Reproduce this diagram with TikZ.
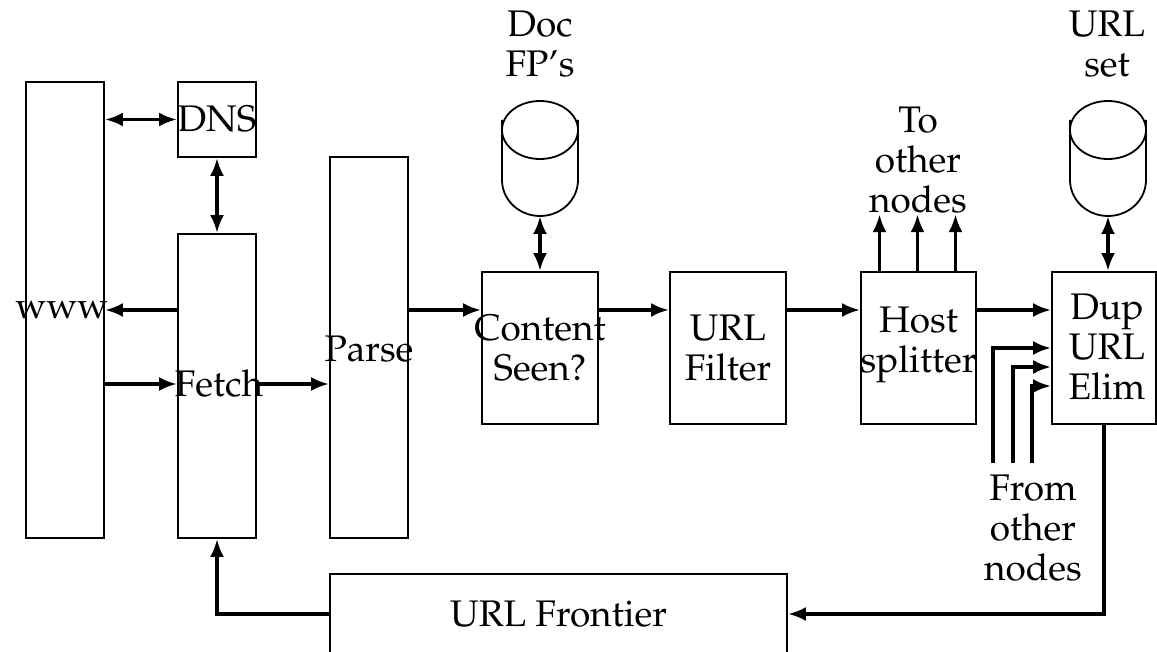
\documentclass[tikz,border=0pt]{standalone}
\usepackage[T1]{fontenc}
\usepackage{mathpazo}
\usetikzlibrary{arrows.meta}

\tikzset{
  box/.style={draw, line width=0.9pt, inner sep=0pt},
  lbl/.style={inner sep=0pt, align=center},
  arr/.style={line width=1.9pt, -{Latex[length=9pt,width=7pt]}},
  dbl/.style={line width=1.9pt, {Latex[length=9pt,width=7pt]}-{Latex[length=9pt,width=7pt]}},
  disk/.style={line width=0.9pt}
}

\begin{document}
\begin{tikzpicture}[x=0.5pt, y=-0.5pt, font=\fontsize{18.5}{20}\selectfont]
\useasboundingbox (0,0) rectangle (1157,652);

% processing boxes (outlines)
\node[box, minimum width=39pt, minimum height=228pt] (www) at (65,310) {};
\node[box, minimum width=39pt, minimum height=37.5pt] (dns) at (217,119.5) {};
\node[box, minimum width=39pt, minimum height=152pt] (fetch) at (217,386) {};
\node[box, minimum width=39pt, minimum height=190.5pt] (parse) at (369,347.5) {};
\node[box, minimum width=58pt, minimum height=76pt] (content) at (540,348) {};
\node[box, minimum width=58pt, minimum height=76pt] (filter) at (728,348) {};
\node[box, minimum width=57.5pt, minimum height=76pt] (host) at (918.5,348) {};
\node[box, minimum width=52pt, minimum height=76pt] (dup) at (1104,348) {};
\node[box, minimum width=228.5pt, minimum height=40pt] (frontier) at (558.5,614) {};

% box captions (allowed to run over the outlines)
\node[lbl] (wwwt) at (62,310) {www};
\node[lbl] (dnst) at (dns) {DNS};
\node[lbl] (fetcht) at (219,384) {Fetch};
\node[lbl] (parset) at (369,349) {Parse};
\node[lbl] (contentt) at (540,348) {Content\\Seen?};
\node[lbl] (filtert) at (728,348) {URL\\Filter};
\node[lbl] (hostt) at (918.5,345) {Host\\splitter};
\node[lbl] (dupt) at (1107,347) {Dup\\URL\\Elim};
\node[lbl] (frontiert) at (frontier) {URL Frontier};

% disk stores
\foreach \cx/\nm in {540/docfp, 1108/urlset}{
  \draw[disk] (\cx,130) ellipse [x radius=19pt, y radius=14.5pt];
  \draw[disk] (\cx-38,120) -- (\cx-38,180)
     arc[start angle=180, end angle=360, x radius=19pt, y radius=18pt]
     -- (\cx+38,120);
  \coordinate (\nm) at (\cx,216);
}
\node[lbl] (docl) at (540,44) {Doc\\FP's};
\node[lbl] (setl) at (1107,44) {URL\\set};
\node[lbl] (tol) at (918,160) {To\\other\\nodes};
\node[lbl] (froml) at (1033,528) {From\\other\\nodes};

% rows used by the main pipeline
\coordinate (r1) at (0,310);
\coordinate (r2) at (0,384);

% fetching stage
\draw[dbl] (www.east |- dns.west) -- (dns.west);
\draw[dbl] (dns.south) -- (fetch.north);
\draw[arr] (fetch.west |- r1) -- (www.east |- r1);
\draw[arr] (www.east |- r2) -- (fetch.west |- r2);
\draw[arr] (fetch.east |- r2) -- (parse.west |- r2);

% main pipeline
\draw[arr] (parse.east |- r1) -- (content.west |- r1);
\draw[dbl] (docfp) -- (content.north);
\draw[arr] (content.east |- r1) -- (filter.west |- r1);
\draw[arr] (filter.east |- r1) -- (host.west |- r1);
\draw[arr] (host.east |- r1) -- (dup.west |- r1);
\draw[dbl] (urlset) -- (urlset |- dup.north);

% host splitter outputs
\foreach \dx in {-39,-1,37}{
  \draw[arr] ([xshift=\dx*0.5pt]host.north) -- ++(0,-57);
}

% inputs from other nodes
\coordinate (f1) at (993,463);
\coordinate (f2) at (1013,463);
\coordinate (f3) at (1032,463);
\draw[arr] (f1) |- (dup.west |- 0,348);
\draw[arr] (f2) |- (dup.west |- 0,367);
\draw[arr] (f3) |- (dup.west |- 0,386);

% feedback loop through the frontier
\draw[arr] (dup.south) |- (frontier.east);
\draw[arr] (frontier.west) -| (fetch.south);
\end{tikzpicture}
\end{document}
